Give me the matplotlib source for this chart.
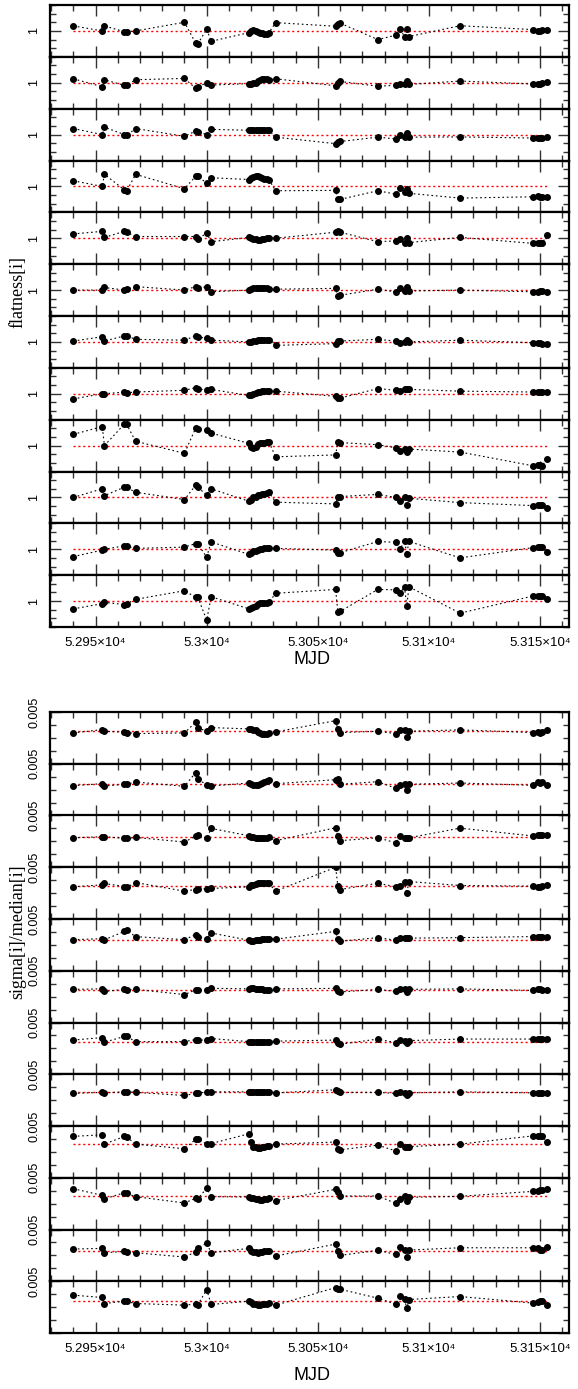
import numpy as np
import matplotlib
matplotlib.use("Agg")
import matplotlib.pyplot as plt
from matplotlib.ticker import MultipleLocator, FixedLocator, FixedFormatter, FuncFormatter, NullFormatter

plt.rcParams['font.family'] = ['Liberation Sans', 'DejaVu Sans']

# ---------------- data ----------------
mjd = [52940, 52953, 52954, 52963, 52964, 52968, 52990, 52995, 52996, 53000, 53002,
       53019, 53020, 53021, 53022, 53023, 53024, 53025, 53026, 53027, 53028, 53031,
       53058, 53059, 53060, 53077, 53085, 53087, 53089, 53090, 53091, 53114,
       53147, 53149, 53150, 53151, 53153]

# flatness[i] values (panel 1 .. 12), stored as percent deviation from 1
flat1 = [0.58, 0, 0.58, -0.1, -0.1, 0, 1.0, -1.4, -1.5, 0.2, -1.2,
         -0.2, 0, 0.1, 0, -0.15, -0.25, -0.25, -0.3, -0.3, -0.2, 0.96,
         0.54, 0.8, 0.9, -1.0, -0.5, 0.2, -0.65, 0.2, -0.65, 0.6,
         0.15, 0, 0, 0.1, 0.1]
flat2 = [0.46, -0.46, 0.35, -0.3, -0.27, 0.35, 0.5, -0.65, -0.5, 0, -0.27,
         -0.1, -0.1, 0, 0, 0.2, 0.35, 0.4, 0.4, 0.4, 0.35, 0.46,
         -0.35, 0, 0.15, -0.4, -0.3, -0.1, -0.2, 0.2, -0.2, 0.2,
         -0.15, -0.15, -0.15, -0.05, 0.1]
flat3 = [0.7, 0, 0.85, 0, -0.1, 0.7, -0.2, 0.4, 0.35, 0, 0.6,
         0.5, 0.5, 0.5, 0.5, 0.5, 0.5, 0.5, 0.5, 0.5, 0.5, -0.3,
         -1.05, -0.9, -0.8, -0.3, -0.5, 0, -0.3, 0.2, -0.3, -0.27,
         -0.4, -0.42, -0.45, -0.4, -0.3]
flat4 = [0.65, 0, 1.4, -0.4, -0.55, 1.4, -0.27, 1.15, 1.15, 0.4, 1.0,
         0.8, 0.95, 1.1, 1.15, 1.2, 1.05, 1.0, 0.9, 0.9, 0.8, -0.5,
         -0.46, -1.4, -1.5, -0.5, -0.9, -0.15, -0.7, -0.3, -0.8, -1.35,
         -1.2, -1.1, -1.2, -1.2, -1.25]
flat5 = [0.5, 0.8, 0.1, 0.8, 0.7, 0.2, 0.2, 0.2, -0.1, 0.6, -0.4,
         0.1, 0, -0.1, -0.1, -0.2, -0.2, -0.1, -0.1, 0, 0, 0,
         0.7, 0.8, 0.7, -0.4, -0.3, -0.1, -0.6, 0, -0.5, 0.1,
         -0.6, -0.6, -0.6, -0.6, 0.4]
flat6 = [0, 0, 0.3, 0, 0.1, 0.4, 0, 0.4, 0.2, 0.4, -0.2,
         0, 0.1, 0.2, 0.2, 0.2, 0.2, 0.2, 0.2, 0.2, 0.1, 0.1,
         0.2, -0.7, -0.6, 0.1, -0.2, 0.2, -0.1, 0.3, -0.1, 0,
         -0.2, -0.2, -0.1, -0.1, -0.2]
flat7 = [0.1, 0.6, 0.1, 0.7, 0.7, 0.3, 0.2, 0.7, 0.6, 0.4, 0.2,
         0, 0, 0.1, 0.1, 0.2, 0.2, 0.2, 0.2, 0.2, 0.2, -0.4,
         -0.2, 0.1, 0.1, 0.3, 0.1, -0.1, 0, 0.2, 0, 0.2,
         -0.1, -0.1, -0.1, -0.2, -0.2]
flat8 = [-0.6, 0, 0, 0.2, 0.1, 0.2, 0.4, 0.7, 0.6, 0.4, 0.5,
         -0.2, -0.1, 0, 0.1, 0.2, 0.2, 0.3, 0.3, 0.3, 0.3, 0.3,
         -0.3, -0.5, -0.5, 0.6, 0.4, 0.3, 0.5, 0.6, 0.5, 0.3,
         0.2, 0.2, 0.2, 0.2, 0.2]
flat9 = [1.3, 2.2, 0, 2.5, 2.45, 0.5, -0.9, 2.0, 1.9, 1.85, 1.45,
         0.25, -0.15, -0.25, -0.15, 0.2, 0.27, 0.3, 0.35, 0.4, 0.42, -1.3,
         -1.08, 0.4, 0.35, 0.1, -0.25, -0.6, -0.35, -0.75, -0.4, -0.75,
         -2.35, -2.3, -2.3, -2.35, -1.5]
flat10 = [0, 1.0, 0.2, 1.2, 1.15, 0.6, -0.25, 1.4, 1.15, 0.3, 1.0,
          -0.45, -0.25, 0, 0.1, 0.25, 0.3, 0.4, 0.45, 0.55, 0.6, -0.55,
          -0.75, 0.1, 0.1, 0.35, 0, -0.4, 0, -0.9, -0.1, -0.6,
          -0.95, -0.9, -0.85, -0.9, -1.2]
flat11 = [-0.85, -0.1, 0, 0.4, 0.35, 0.1, 0.25, 0.65, 0.6, -0.9, 0.85,
          -0.6, -0.4, -0.25, -0.15, -0.1, 0, 0, 0.1, 0.1, 0.1, 0.1,
          -0.1, -0.45, -0.4, 0.9, 0.8, 0, 1.0, -0.55, 0.9, -1.0,
          0.2, 0.27, 0.27, 0.23, -0.35]
flat12 = [-0.9, -0.3, -0.15, -0.4, -0.3, 0.2, 1.2, 0.45, 0.45, -2.2, 0.5,
          -0.9, -0.77, -0.65, -0.55, -0.35, -0.27, -0.23, -0.23, -0.2, -0.15, 0.9,
          1.35, -1.25, -1.2, 1.35, 1.3, 0.95, 1.65, -0.6, 1.65, -1.4,
          0.6, 0.6, 0.6, 0.55, 0.25]

# sigma[i]/median[i] values (panel 1 .. 12), in units of 1e-3
sig1 = [0.96, 1.60, 1.28, 1.09, 1.03, 0.83, 0.96, 3.01, 1.86, 1.35, 1.99,
        1.73, 1.67, 1.60, 1.47, 1.22, 0.96, 0.77, 0.70, 0.77, 0.96, 1.15,
        3.33, 1.73, 1.03, 1.28, 0.83, 1.60, 1.47, 0.13, 1.28, 1.54,
        1.03, 1.15, 1.03, 1.15, 1.47]
sig2 = [0.77, 1.15, 0.70, 1.03, 1.03, 1.47, 0.64, 3.27, 1.99, 0.96, 0.70,
        1.28, 1.15, 0.96, 0.83, 0.96, 1.15, 1.35, 1.54, 1.73, 1.86, 1.15,
        1.92, 1.99, 1.03, 1.54, 0.26, 0.96, 1.15, -0.06, 1.03, 1.28,
        0.83, 1.47, 1.35, 1.54, 0.83]
sig3 = [0.70, 0.90, 0.90, 0.58, 0.58, 0.77, -0.13, 1.03, 1.22, 0.58, 2.50,
        1.09, 0.90, 0.77, 0.70, 0.64, 0.58, 0.58, 0.58, 0.64, 0.77, 0.13,
        2.63, 0.96, 0.13, 0.70, -0.26, 0.96, 0.70, 0.70, 0.70, 2.56,
        1.03, 1.28, 1.28, 1.22, 1.22]
sig4 = [1.22, 1.60, 1.86, 1.28, 1.09, 2.05, 0.38, 0.70, 0.83, 0.83, 0.90,
        1.22, 1.54, 1.60, 1.67, 2.05, 1.99, 1.92, 1.86, 1.86, 1.86, 0.38,
        5.0, 1.41, 0.70, 1.92, 1.22, 1.41, 2.18, -0.06, 2.24, 1.47,
        1.35, 1.22, 1.22, 1.35, 1.54]
sig5 = [1.0, 1.2, 1.0, 2.6, 2.8, 1.6, 1.0, 2.0, 1.6, 1.2, 2.3,
        0.9, 0.8, 0.8, 0.9, 1.0, 1.0, 1.1, 1.1, 1.2, 1.2, 1.1,
        2.6, 1.1, 0.7, 1.4, 0.9, 1.4, 1.3, 1.3, 1.3, 1.4,
        1.6, 1.6, 1.6, 1.6, 1.5]
sig6 = [1.4, 1.5, 1.0, 1.4, 1.3, 1.4, 0.4, 1.3, 1.3, 1.3, 1.6,
        1.5, 1.6, 1.6, 1.5, 1.5, 1.4, 1.4, 1.3, 1.3, 1.3, 1.5,
        1.6, 1.0, 0.9, 1.4, 1.0, 1.5, 1.4, 0.9, 1.4, 1.5,
        1.2, 1.4, 1.4, 1.3, 1.2]
sig7 = [1.6, 2.1, 1.2, 2.3, 2.3, 1.3, 1.3, 1.7, 1.6, 1.6, 1.9,
        1.3, 1.2, 1.2, 1.2, 1.3, 1.3, 1.3, 1.3, 1.3, 1.3, 1.4,
        1.6, 1.0, 0.8, 1.8, 1.1, 1.6, 1.4, 1.0, 1.5, 1.8,
        1.8, 1.8, 1.8, 1.8, 1.8]
sig8 = [1.3, 1.5, 1.4, 1.6, 1.6, 1.5, 0.9, 1.3, 1.3, 1.6, 1.6,
        1.6, 1.6, 1.6, 1.5, 1.5, 1.5, 1.5, 1.5, 1.5, 1.5, 1.4,
        2.0, 1.7, 1.5, 1.5, 1.3, 1.5, 1.4, 1.0, 1.4, 1.6,
        1.4, 1.4, 1.4, 1.4, 1.4]
sig9 = [3.0, 3.3, 1.5, 3.0, 2.9, 1.5, 0.6, 2.4, 2.5, 1.5, 1.6,
        3.5, 2.0, 1.0, 0.9, 0.8, 0.8, 0.9, 1.0, 1.1, 1.2, 1.5,
        1.9, 0.6, 0.4, 1.3, 0.2, 1.6, 1.0, 0.9, 1.0, 1.5,
        3.1, 3.0, 3.0, 3.0, 1.9]
sig10 = [2.88, 1.60, 0.90, 2.12, 1.99, 1.35, 0.13, 1.03, 0.96, 2.95, 1.35,
         1.28, 1.15, 1.03, 0.96, 0.90, 0.77, 0.77, 0.83, 0.96, 1.09, 0.58,
         2.76, 2.24, 1.47, 1.47, 0.06, 0.96, 1.41, 0.51, 1.22, 1.41,
         2.37, 2.44, 2.56, 2.63, 2.76]
sig11 = [1.22, 1.35, 0.51, 0.77, 0.64, 0.51, -0.32, 0.64, 1.47, 2.37, 0.51,
         1.35, 0.83, 0.70, 0.58, 0.51, 0.58, 0.64, 0.77, 0.83, 0.83, -0.13,
         2.18, 0.83, 0.0, 0.96, 0.19, 1.60, 1.03, -0.26, 1.03, 1.47,
         1.47, 1.41, 1.09, 1.09, 1.60]
sig12 = [2.31, 1.86, 0.70, 1.15, 1.09, 0.70, 0.38, 0.58, 0.45, 3.40, 0.51,
         1.15, 1.03, 0.70, 0.51, 0.45, 0.45, 0.51, 0.58, 0.64, 0.77, 0.38,
         3.78, 3.59, 3.46, 1.73, 0.58, 2.24, 1.60, -0.26, 1.47, 2.05,
         0.77, 0.90, 1.15, 1.09, 0.45]

# median reference levels for the sigma panels (1e-3 units)
sig_ref = [1.28, 1.09, 0.90, 1.41, 1.0, 1.3, 1.3, 1.5, 1.5, 1.41, 0.90, 1.15]

flat_panels = [flat1, flat2, flat3, flat4, flat5, flat6, flat7, flat8,
               flat9, flat10, flat11, flat12]
sig_panels = [sig1, sig2, sig3, sig4, sig5, sig6, sig7, sig8,
              sig9, sig10, sig11, sig12]

# ---------------- layout ----------------
W, H = 578, 1389
fig = plt.figure(figsize=(W / 100, H / 100), dpi=100)
LEFT, RIGHT = 50, 569
TOP1, BOT1 = 5, 627
TOP2, BOT2 = 712, 1333
XLIM = (52929.5, 53163)


def make_ax(y0, h):
    return fig.add_axes([LEFT / W, 1 - (y0 + h) / H, (RIGHT - LEFT) / W, h / H])


def xfmt(v, pos):
    return f"{v / 1e4:g}\u00d710\u2074"


def style(ax, last):
    ax.set_xlim(*XLIM)
    ax.xaxis.set_major_locator(MultipleLocator(50))
    ax.xaxis.set_minor_locator(MultipleLocator(10))
    for s in ax.spines.values():
        s.set_linewidth(1.6)
    ax.tick_params(which='both', direction='in', top=True, right=True,
                   width=1.0, color='#333333')
    ax.tick_params(which='major', length=8)
    ax.tick_params(which='minor', length=4.5)
    ax.tick_params(axis='y', labelrotation=90, labelsize=9, pad=7)
    ax.tick_params(axis='x', labelsize=9.5, pad=7)
    if last:
        ax.xaxis.set_major_formatter(FuncFormatter(xfmt))
    else:
        ax.xaxis.set_major_formatter(NullFormatter())


def draw(ax, y, ref):
    ax.plot([mjd[0], mjd[-1]], [ref, ref], color='red', lw=1.0,
            linestyle=(0, (1.5, 2.0)), zorder=1)
    ax.plot(mjd, y, color='black', lw=0.8, linestyle=(0, (1.5, 2.5)),
            marker='o', ms=4.0, mec='black', mfc='black', zorder=2)


n = 12
h1 = (BOT1 - TOP1) / n
for i, vals in enumerate(flat_panels):
    ax = make_ax(TOP1 + i * h1, h1)
    y = 1 + 0.01 * np.array(vals)
    draw(ax, y, 1.0)
    ax.set_ylim(0.97, 1.03)
    ax.yaxis.set_major_locator(FixedLocator([1.0]))
    ax.yaxis.set_major_formatter(FixedFormatter(['1']))
    ax.yaxis.set_minor_locator(MultipleLocator(0.01))
    style(ax, i == n - 1)
    for lab in ax.get_yticklabels():
        lab.set_va('center')

h2 = (BOT2 - TOP2) / n
for i, vals in enumerate(sig_panels):
    ax = make_ax(TOP2 + i * h2, h2)
    y = 1e-3 * np.array(vals)
    draw(ax, y, 1e-3 * sig_ref[i])
    ax.set_ylim(-0.005, 0.005)
    ax.yaxis.set_major_locator(FixedLocator([-0.005, 0.005]))
    ax.yaxis.set_major_formatter(FixedFormatter(['', '0.005']))
    ax.yaxis.set_minor_locator(MultipleLocator(0.0025))
    style(ax, i == n - 1)
    for lab in ax.get_yticklabels():
        lab.set_va('center')

fig.text(18 / W, 1 - 292 / H, 'flatness[i]', rotation=90, ha='center', va='center',
         family='Liberation Serif', fontsize=13)
fig.text(18 / W, 1 - 932 / H, 'sigma[i]/median[i]', rotation=90, ha='center', va='center',
         family='Liberation Serif', fontsize=13)
fig.text(312 / W, 1 - 660 / H, 'MJD', ha='center', va='center', fontsize=13)
fig.text(312 / W, 1 - 1375 / H, 'MJD', ha='center', va='center', fontsize=13)

fig.savefig('out.png', dpi=100)
